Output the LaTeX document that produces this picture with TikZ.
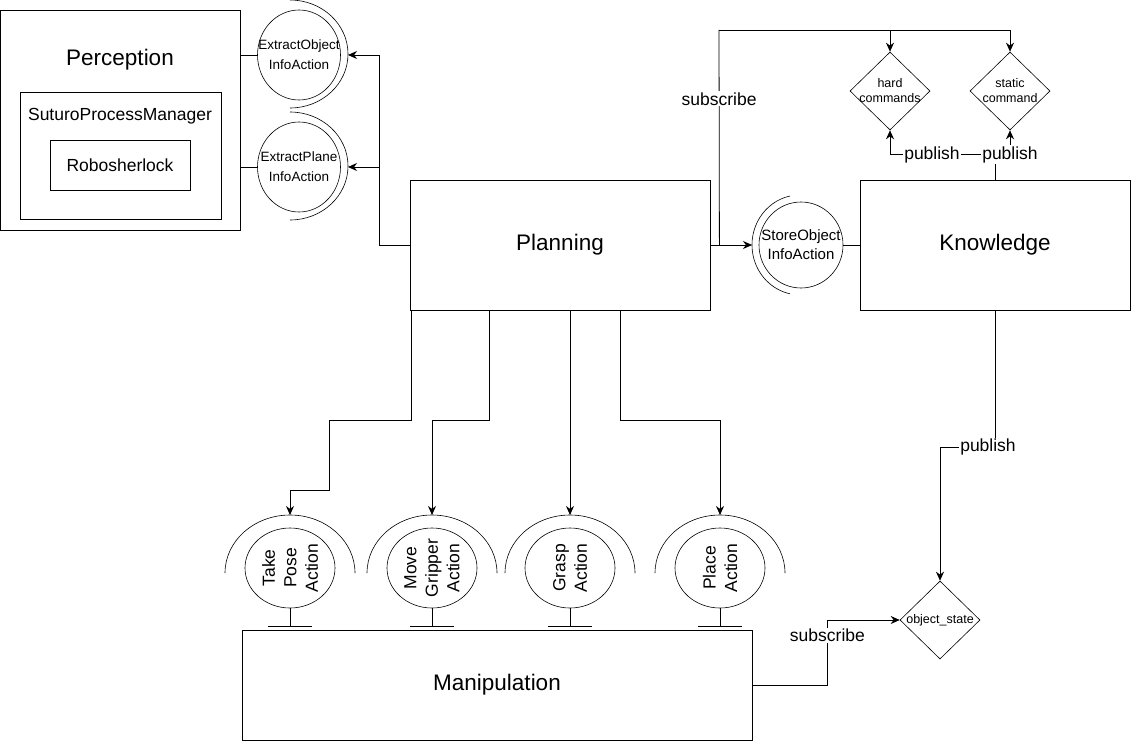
\documentclass[tikz,border=0pt]{standalone}
\usepackage{fontspec}
\setmainfont{Liberation Sans}
\usetikzlibrary{shapes.geometric,arrows.meta}

\newcommand\largetxt{\fontsize{22.5}{27}\selectfont}
\newcommand\medtxt{\fontsize{17.5}{21.5}\selectfont}
\newcommand\smalltxt{\fontsize{12.5}{15}\selectfont}

\tikzset{
  box/.style={draw, rectangle, inner sep=0pt},
  action/.style={draw, ellipse, inner sep=0pt, line width=0.6pt},
  cup/.style={line width=0.6pt},
  topic/.style={draw, diamond, inner sep=0pt, minimum width=80pt, minimum height=78pt, line width=0.6pt},
  lbl/.style={fill=white, inner sep=1pt, font=\medtxt},
}

\begin{document}
\begin{tikzpicture}[x=1pt, y=-1pt, line width=0.8pt, >={Stealth[length=9pt,width=8pt]}]
\path[fill=white, use as bounding box] (0,0) rectangle (1131,741);

% Perception
\node[box, minimum width=240pt, minimum height=220pt] (perc) at (120,120) {};
\node[font=\largetxt] (perc-title) at (120,60) {Perception};
\node[box, minimum width=201pt, minimum height=127pt] (spm) at (120.5,155.5) {};
\node[font=\medtxt] (spm-title) at (120,116) {SuturoProcessManager};
\node[box, minimum width=140pt, minimum height=50pt, font=\medtxt] (rs) at (120,165) {Robosherlock};

% Extract actions
\node[action, minimum width=83pt, minimum height=90pt] (eobj) at (299,55) {};
\node[font={\fontsize{13.5}{20}\selectfont}, align=center] (eobj-txt) at (eobj) {ExtractObject\\InfoAction};
\draw[cup] ([shift={(-9pt,55pt)}]eobj.center) arc[start angle=90, end angle=-90, x radius=58pt, y radius=54pt];
\coordinate (eobj-cap) at ([xshift=49pt]eobj.center);
\node[action, minimum width=83pt, minimum height=90pt] (epl) at (299,167) {};
\node[font={\fontsize{13.5}{20}\selectfont}, align=center] (epl-txt) at (epl) {ExtractPlane\\InfoAction};
\draw[cup] ([shift={(-9pt,55pt)}]epl.center) arc[start angle=90, end angle=-90, x radius=58pt, y radius=54pt];
\coordinate (epl-cap) at ([xshift=49pt]epl.center);

% Main blocks
\node[box, minimum width=300pt, minimum height=130pt, font=\largetxt] (plan) at (560,245) {Planning};
\node[box, minimum width=270pt, minimum height=130pt, font=\largetxt] (know) at (995,245) {Knowledge};
\node[box, minimum width=510pt, minimum height=110pt, font=\largetxt] (manip) at (497,685) {Manipulation};

% Store action
\node[action, minimum width=84pt, minimum height=86pt] (sobj) at (801,245) {};
\node[font={\fontsize{15}{19}\selectfont}, align=center] (sobj-txt) at (sobj) {StoreObject\\InfoAction};
\draw[cup] ([shift={(-11pt,49pt)}]sobj.center) arc[start angle=102, end angle=258, x radius=48pt, y radius=50pt];
\coordinate (sobj-cap) at ([xshift=-49pt]sobj.center);

% Topics
\node[topic] (hard) at (890,91) {};
\node[font=\smalltxt, align=center] (hard-txt) at (hard) {hard\\commands};
\node[topic] (static) at (1010,91) {};
\node[font=\smalltxt, align=center] (static-txt) at (static) {static\\command};
\node[topic] (ostate) at (940,620) {};
\node[font=\smalltxt] (ostate-txt) at (ostate) {object\_state};

% Manipulation actions
\foreach \n/\x/\txt in {take/290/{Take\\Pose\\Action}, move/432/{Move\\Gripper\\Action}, grasp/570/{Grasp\\Action}, place/720/{Place\\Action}}{
  \node[action, minimum width=90pt, minimum height=80pt] (\n) at (\x,568) {};
  \node[font=\medtxt, rotate=90, align=center] (\n-txt) at (\n) {\txt};
  \draw[cup] ([shift={(-65pt,-5pt)}]\n.center) arc[start angle=180, end angle=0, x radius=65pt, y radius=58pt];
  \draw (\n.south) -- ++(0,18) coordinate (\n-foot);
  \draw ([xshift=-22pt]\n-foot) -- ([xshift=22pt]\n-foot);
  \coordinate (\n-cap) at ([yshift=53pt]\n.center);
}

% Perception links
\draw (eobj.west) -- (eobj.west -| perc.east);
\draw (epl.west) -- (epl.west -| perc.east);
\draw[->] (plan.west) -- ++(-30,0) |- (eobj-cap);
\draw[->] (plan.west) -- ++(-30,0) |- (epl-cap);

% Knowledge links
\draw[->] (plan.east) -- (sobj-cap);
\draw (sobj.east) -- (know.west);
\coordinate (tap) at ([xshift=9pt]plan.east);
\coordinate (bus) at (719,30);
\draw (tap) -- (bus) node[lbl, pos=0.68] (sub1) {subscribe};
\draw[->] (bus) -| (hard.north);
\draw[->] (bus) -| (static.north);
\coordinate (kpub) at ([yshift=25pt]know.north);
\draw[->] (know.north) -- (kpub) -| (hard.south) node[lbl, pos=0.3] (pub1) {publish};
\draw[->] (kpub) -| (static.south) node[lbl, pos=0.5] (pub2) {publish};
\draw[->] (know.south) -- ++(0,137) coordinate (kdown) -| (ostate.north);
\node[lbl] (pub3) at ([xshift=-7pt]kdown) {publish};
\draw[->] (manip.east) -- ++(75,0) |- (ostate.west) node[lbl, pos=0.38] (sub2) {subscribe};

% Planning to actions
\draw[->] ([xshift=2pt]plan.south west) -- ++(0,110) -- ++(-82,0) -- ++(0,70) -| (take-cap);
\draw[->] ([xshift=80pt]plan.south west) -- ++(0,110) -| (move-cap);
\draw[->] (plan.south -| grasp-cap) -- (grasp-cap);
\draw[->] ([xshift=60pt]plan.south) -- ++(0,110) -| (place-cap);
\end{tikzpicture}
\end{document}
